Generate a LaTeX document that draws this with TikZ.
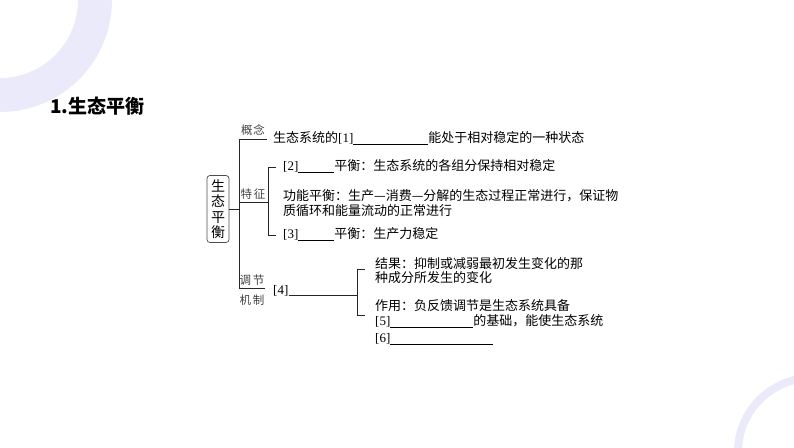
\documentclass[tikz,border=0pt]{standalone}
\usepackage{fontspec}
\setmainfont{Liberation Serif}
\newfontfamily\cj{Noto Sans CJK SC}
\definecolor{ringc}{RGB}{234,234,250}
\newcommand\blk[1]{\rule[-2.5pt]{#1pt}{0.6pt}}
\tikzset{
  link/.style={draw=black!85, line width=0.7pt},
  lbl/.style={font=\cj\fontsize{11.5}{12}\selectfont, text=black!75, inner sep=0pt},
  txt/.style={font=\fontsize{13}{15}\selectfont, inner sep=0pt, anchor=base west},
  mainbox/.style={draw=black!70, rounded corners=3pt, line width=0.7pt,
    minimum width=22pt, minimum height=67pt, inner sep=0pt, align=center,
    font=\cj\fontsize{14}{15.5}\selectfont},
  ttl/.style={font=\cj\bfseries\fontsize{19}{20}\selectfont, inner sep=0pt, anchor=base west}
}
\begin{document}
\begin{tikzpicture}[x=1pt,y=-1pt]
\useasboundingbox (0,0) rectangle (794,447);
\begin{scope}
  \clip (0,0) rectangle (794,447);
  \draw[ringc, line width=34pt] (0,0) circle (95pt);
  \draw[ringc, line width=8pt] (812,452) circle (74pt);
\end{scope}

\node[ttl] (title) at (50,113) {1.生态平衡};

\node[mainbox] (main) at (218,209) {生\\态\\平\\衡};

\coordinate (trTop) at (239,139);
\coordinate (trBot) at (239,288);
\coordinate (b1t) at (268,167);
\coordinate (b1m) at (268,202);
\coordinate (b1b) at (268,235);
\coordinate (b2t) at (357,269);
\coordinate (b2m) at (357,295);
\coordinate (b2b) at (357,315);

\node[lbl] (lConcept) at (253,130) {概\hspace{1pt}念};
\node[lbl] (lFeat) at (253,194) {特\hspace{2pt}征};
\node[lbl] (lReg1) at (252,280) {调\hspace{2pt}节};
\node[lbl] (lReg2) at (252,300) {机\hspace{2pt}制};

\node[txt] (tConcept) at (273,142) {{\cj 生态系统的}[1]\blk{75}{\cj 能处于相对稳定的一种状态}};
\node[txt] (t2) at (283,170) {[2]\blk{36}{\cj 平衡：生态系统的各组分保持相对稳定}};
\node[txt] (tFunc1) at (283,200) {{\cj 功能平衡：生产—消费—分解的生态过程正常进行，保证物}};
\node[txt] (tFunc2) at (283,215) {{\cj 质循环和能量流动的正常进行}};
\node[txt] (t3) at (283,238) {[3]\blk{36}{\cj 平衡：生产力稳定}};

\node[txt] (t4) at (273,294) {[4]};
\node[txt] (tRes1) at (375,268) {{\cj 结果：抑制或减弱最初发生变化的那}};
\node[txt] (tRes2) at (375,282) {{\cj 种成分所发生的变化}};
\node[txt] (tUse1) at (375,310) {{\cj 作用：负反馈调节是生态系统具备}};
\node[txt] (t5) at (375,325) {[5]\blk{83}{\cj 的基础，能使生态系统}};
\node[txt] (t6) at (375,342) {[6]\blk{103}};

\draw[link] (main.east) -- (main.east -| trTop);
\draw[link] (trTop) -- (trBot);
\draw[link] (trTop) -- ++(28,0);
\draw[link] (trTop |- b1m) -- (b1m);
\draw[link] ([xshift=8pt]b1t) -- (b1t) -- (b1b) -- ([xshift=8pt]b1b);
\draw[link] (trBot) -- ++(26,0);
\draw[link] (t4.east |- b2m) -- (b2m);
\draw[link] ([xshift=8pt]b2t) -- (b2t) -- (b2b) -- ([xshift=8pt]b2b);
\end{tikzpicture}
\end{document}
